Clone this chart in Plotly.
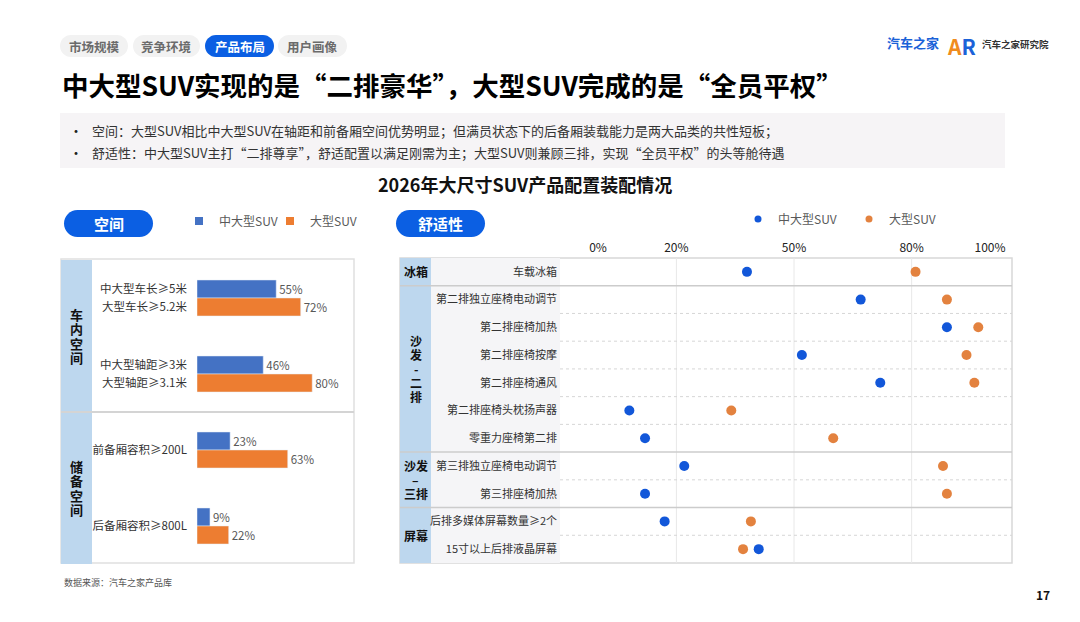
import plotly.graph_objects as go

W, H = 1080, 622
OFF = 8  # marge par défaut du <body> de la page
FONT = "Noto Sans CJK SC"

# ---- data ----
series_names = ["中大型SUV", "大型SUV"]

space_sections = ["车内空间", "储备空间"]
space_section_groups = [2, 2]
space_labels = [["中大型车长≥5米", "大型车长≥5.2米"],
                ["中大型轴距≥3米", "大型轴距≥3.1米"],
                ["前备厢容积≥200L"],
                ["后备厢容积≥800L"]]
space_mid = [55, 46, 23, 9]
space_large = [72, 80, 63, 22]

comfort_sections = [["冰箱"], ["沙", "发", "-", "二", "排"], ["沙发", "–", "三排"], ["屏幕"]]
comfort_section_rows = [1, 6, 2, 2]
comfort_items = ["车载冰箱", "第二排独立座椅电动调节", "第二排座椅加热", "第二排座椅按摩",
                 "第二排座椅通风", "第二排座椅头枕扬声器", "零重力座椅第二排",
                 "第三排独立座椅电动调节", "第三排座椅加热", "后排多媒体屏幕数量≥2个",
                 "15寸以上后排液晶屏幕"]
comfort_mid = [38, 67, 89, 52, 72, 8, 12, 22, 12, 17, 41]
comfort_large = [81, 89, 97, 94, 96, 34, 60, 88, 89, 39, 37]
pct_ticks = [0, 20, 50, 80, 100]
pct_grid = [20, 50, 80]

tabs = ["市场规模", "竞争环境", "产品布局", "用户画像"]
active_tab = 2

# ---- colours ----
BAR_BLUE, BAR_ORANGE = "#4472c4", "#ed7d31"
DOT_BLUE, DOT_ORANGE = "#1257d9", "#e3823f"
PILL_BLUE = "#0b5fe3"
CAT_FILL = "#bdd7ee"
LINE = "#d4d4d4"


def px(x):
    return (x - OFF) / W


def py(y):
    return 1 - (y - OFF) / H


def pill_path(x0, y0, x1, y1):
    '''rectangle arrondi (pilule) en coordonnées papier'''
    r = (y1 - y0) / 2
    k = 0.5523 * r
    yc = (y0 + y1) / 2
    pts = [("M", [(x0 + r, y0)]), ("L", [(x1 - r, y0)]),
           ("C", [(x1 - r + k, y0), (x1, yc - k), (x1, yc)]),
           ("C", [(x1, yc + k), (x1 - r + k, y1), (x1 - r, y1)]),
           ("L", [(x0 + r, y1)]),
           ("C", [(x0 + r - k, y1), (x0, yc + k), (x0, yc)]),
           ("C", [(x0, yc - k), (x0 + r - k, y0), (x0 + r, y0)])]
    s = ""
    for cmd, ps in pts:
        s += cmd + " ".join(f"{px(a):.5f},{py(b):.5f}" for a, b in ps)
    return s + "Z"


fig = go.Figure()
shapes = []
annotations = []


def text(t, x, y, size, color="#333333", anchor="left", xref="paper", yref="paper", **kw):
    annotations.append(dict(text=t, x=x, y=y, xref=xref, yref=yref, showarrow=False,
                            xanchor=anchor, yanchor="middle",
                            font=dict(family=FONT, size=size, color=color), **kw))


def stacked(lines, x, y, yref, step, size):
    n = len(lines)
    for k, s in enumerate(lines):
        text(f"<b>{s}</b>", x, y, size, "#111111", "center", yref=yref,
             yshift=((n - 1) / 2 - k) * step)


# ---- header ----
tab_pos = [(60, 128), (133, 200), (205, 274), (278, 347)]
for i, (t, (a, b)) in enumerate(zip(tabs, tab_pos)):
    on = i == active_tab
    shapes.append(dict(type="path", path=pill_path(a, 35, b, 57), xref="paper", yref="paper",
                       fillcolor=PILL_BLUE if on else "#f2f2f2", line=dict(width=0)))
    text(f"<b>{t}</b>", px((a + b) / 2), py(46), 12.5, "white" if on else "#6b6b6b", "center")

text("<b>中大型SUV实现的是“二排豪华”，大型SUV完成的是“全员平权”</b>", px(60), py(84), 26.5, "#000000")

shapes.append(dict(type="rect", xref="paper", yref="paper", x0=px(60), x1=px(1005),
                   y0=py(168), y1=py(113), fillcolor="#f6f4f6", line=dict(width=0)))
bullets = ["空间：大型SUV相比中大型SUV在轴距和前备厢空间优势明显；但满员状态下的后备厢装载能力是两大品类的共性短板；",
           "舒适性：中大型SUV主打“二排尊享”，舒适配置以满足刚需为主；大型SUV则兼顾三排，实现“全员平权”的头等舱待遇"]
for b, yy in zip(bullets, [130, 152]):
    text("•", px(67), py(yy), 14, "#222222")
    text(b, px(90), py(yy), 13, "#333333")

text("<b>2026年大尺寸SUV产品配置装配情况</b>", px(525), py(184), 18, "#111111", "center")

# logos
text("<b>汽车之家</b>", px(913), py(43), 13, "#1b62d8", "center")
text("<b><span style='color:#f08c1e'>A</span><span style='color:#1b62d8'>R</span></b>",
     px(961), py(46), 21, "#1b62d8", "center")
text("<b>汽车之家研究院</b>", px(980), py(44), 9.5, "#333333")
text("<b>17</b>", px(1043), py(594), 12, "#111111", "center")
text("数据来源：汽车之家产品库", px(62), py(582), 9, "#555555")

# ---- left panel : space ----
shapes.append(dict(type="path", path=pill_path(64, 210, 153, 237), xref="paper", yref="paper",
                   fillcolor=PILL_BLUE, line=dict(width=0)))
text("<b>空间</b>", px(108.5), py(223.5), 15, "white", "center")
shapes.append(dict(type="rect", xref="paper", yref="paper", x0=px(61), x1=px(354),
                   y0=py(563), y1=py(259), fillcolor="white", line=dict(color="#e0e0e0", width=1.5),
                   layer="below"))
start = 0
for name, n in zip(space_sections, space_section_groups):
    shapes.append(dict(type="rect", xref="paper", yref="y", x0=px(61), x1=px(92),
                       y0=start - 0.5, y1=start + n - 0.5, fillcolor=CAT_FILL, line=dict(width=0),
                       layer="below"))
    stacked(list(name), px(76.5), start + (n - 1) / 2, "y", 14.5, 13)
    start += n
    if start < len(space_labels):
        shapes.append(dict(type="line", xref="paper", yref="y", x0=px(61), x1=px(354),
                           y0=start - 0.5, y1=start - 0.5, line=dict(color=LINE, width=2)))

bargap = 1 - 36 / 76
bar_w = (1 - bargap) / 2
tickvals, ticktext = [], []
for g, labs in enumerate(space_labels):
    if len(labs) == 2:
        tickvals += [g - bar_w / 2, g + bar_w / 2]
    else:
        tickvals.append(g)
    ticktext += labs

groups = list(range(len(space_labels)))
for name, vals, col in zip(series_names, [space_mid, space_large], [BAR_BLUE, BAR_ORANGE]):
    fig.add_trace(go.Bar(x=vals, y=groups, orientation="h", marker_color=col, name=name,
                         text=[f"{v}%" for v in vals], textposition="outside",
                         textfont=dict(family=FONT, size=11.5, color="#595959"),
                         cliponaxis=False, showlegend=False, xaxis="x", yaxis="y"))
    fig.add_trace(go.Scatter(x=[None], y=[None], mode="markers", name=name,
                             marker=dict(symbol="square", size=8, color=col),
                             xaxis="x", yaxis="y", legend="legend"))

# ---- right panel : comfort ----
shapes.append(dict(type="path", path=pill_path(396, 210, 485, 237), xref="paper", yref="paper",
                   fillcolor=PILL_BLUE, line=dict(width=0)))
text("<b>舒适性</b>", px(440.5), py(223.5), 15, "white", "center")
shapes.append(dict(type="rect", xref="paper", yref="paper", x0=px(400), x1=px(1012),
                   y0=py(563), y1=py(258), fillcolor="white", line=dict(color="#d8d8d8", width=1.5),
                   layer="below"))
shapes.append(dict(type="rect", xref="paper", yref="paper", x0=px(431), x1=px(560),
                   y0=py(563), y1=py(258), fillcolor="#f5f5f7", line=dict(width=0), layer="below"))
shapes.append(dict(type="rect", xref="paper", yref="paper", x0=px(400), x1=px(431),
                   y0=py(563), y1=py(258), fillcolor=CAT_FILL, line=dict(width=0), layer="below"))
for v in pct_grid:
    shapes.append(dict(type="line", xref="x2", yref="paper", x0=v, x1=v, y0=py(563), y1=py(258),
                       line=dict(color="#e8e8e8", width=1), layer="below"))

section_ends = []
start = 0
for lines, n in zip(comfort_sections, comfort_section_rows):
    stacked(lines, px(415.5), start + (n - 1) / 2, "y2", 14, 12)
    start += n
    section_ends.append(start - 0.5)
for i in range(len(comfort_items) - 1):
    b = i + 0.5
    if b in section_ends:
        shapes.append(dict(type="line", xref="paper", yref="y2", x0=px(400), x1=px(1012),
                           y0=b, y1=b, line=dict(color="#cccccc", width=1.5)))
    else:
        shapes.append(dict(type="line", xref="paper", yref="y2", x0=px(560), x1=px(1012),
                           y0=b, y1=b, line=dict(color="#d6d6d6", width=1, dash="dot")))

for name, vals, col in zip(series_names, [comfort_mid, comfort_large], [DOT_BLUE, DOT_ORANGE]):
    fig.add_trace(go.Scatter(x=vals, y=comfort_items, mode="markers", name=name,
                             marker=dict(size=10, color=col), showlegend=False,
                             xaxis="x2", yaxis="y2"))
    fig.add_trace(go.Scatter(x=[None], y=[None], mode="markers", name=name,
                             marker=dict(size=7, color=col), xaxis="x2", yaxis="y2",
                             legend="legend2"))

fig.update_layout(
    width=W, height=H, margin=dict(l=0, r=0, t=0, b=0),
    paper_bgcolor="white", plot_bgcolor="rgba(0,0,0,0)",
    font=dict(family=FONT, color="#333333"),
    barmode="group", bargap=bargap, bargroupgap=0,
    xaxis=dict(domain=[px(197), px(341)], range=[0, 100], visible=False, anchor="y"),
    yaxis=dict(domain=[py(564), py(260)], range=[3.5, -0.5], anchor="x",
               tickvals=tickvals, ticktext=ticktext, ticks="", ticklabelstandoff=9,
               tickfont=dict(family=FONT, size=11.5, color="#333333"),
               showgrid=False, zeroline=False, showline=False),
    xaxis2=dict(domain=[px(560), px(1012)], range=[-9.69, 105.6], side="top", anchor="y2",
                tickvals=pct_ticks, ticktext=[f"{v}%" for v in pct_ticks], ticks="",
                ticklabelstandoff=3, tickfont=dict(family=FONT, size=12, color="#222222"),
                showgrid=False, zeroline=False, showline=False),
    yaxis2=dict(domain=[py(563), py(258)], type="category", categoryarray=comfort_items,
                range=[len(comfort_items) - 0.5, -0.5], anchor="x2", ticks="",
                ticklabelstandoff=2, tickfont=dict(family=FONT, size=11, color="#333333"),
                showgrid=False, zeroline=False, showline=False),
    legend=dict(x=px(179), y=py(221), xanchor="left", yanchor="middle", orientation="h",
                entrywidth=46, font=dict(family=FONT, size=12, color="#595959"),
                bgcolor="rgba(0,0,0,0)"),
    legend2=dict(x=px(738), y=py(219), xanchor="left", yanchor="middle", orientation="h",
                 entrywidth=66, font=dict(family=FONT, size=12, color="#595959"),
                 bgcolor="rgba(0,0,0,0)"),
    shapes=shapes, annotations=annotations,
)

fig.write_html("out.html")
